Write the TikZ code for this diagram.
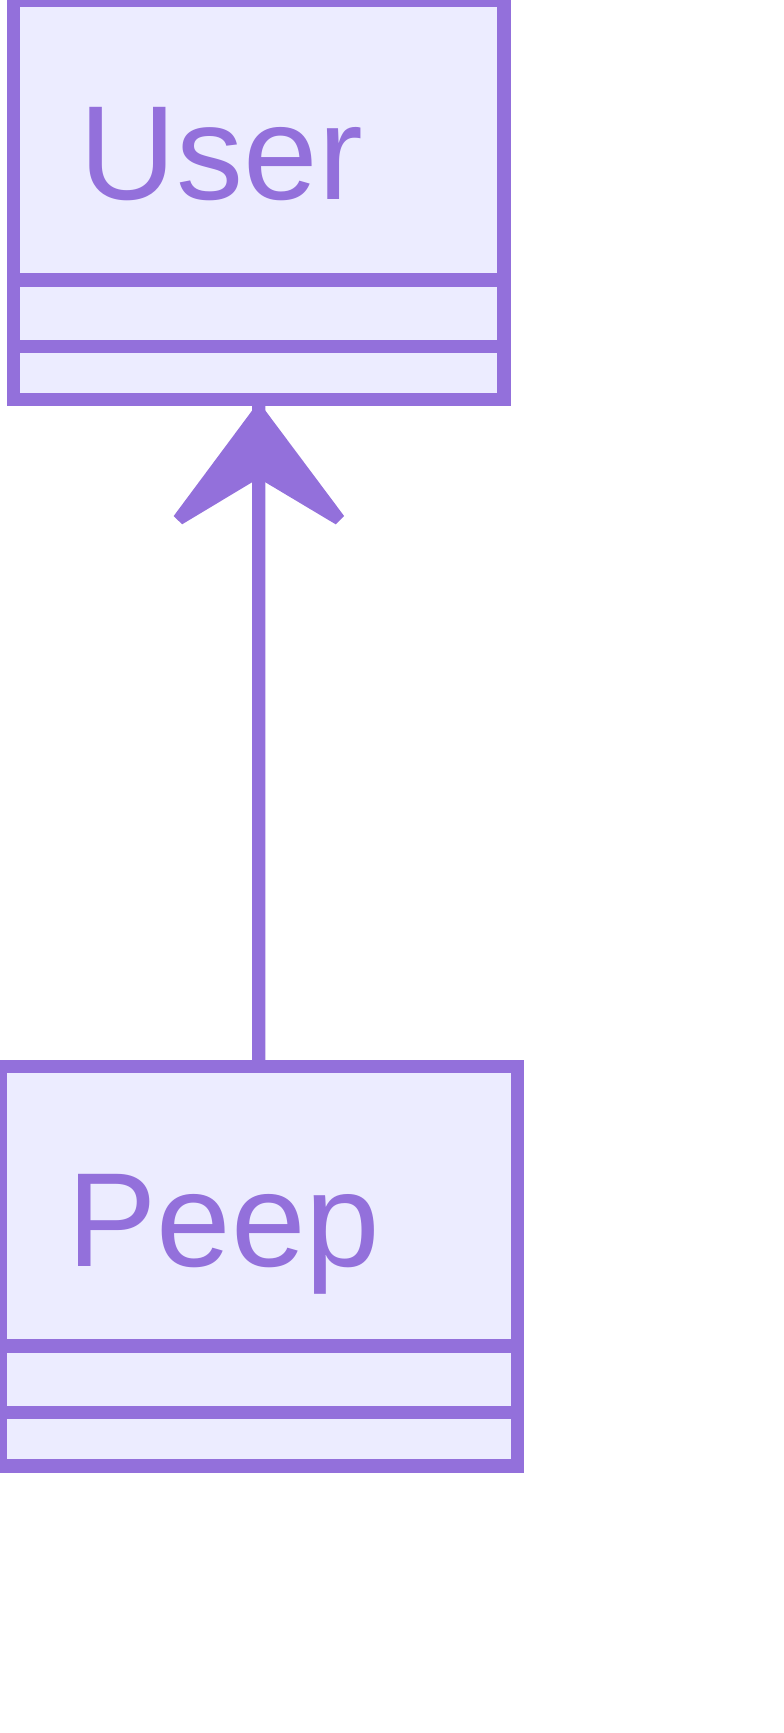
\documentclass[tikz,border=0pt]{standalone}
\usepackage{fontspec}
\setmainfont{Liberation Sans}
\usetikzlibrary{calc}
\definecolor{edgecol}{HTML}{9370DB}
\definecolor{boxfill}{HTML}{ECECFF}
\tikzset{
  classbox/.style={draw=edgecol, fill=boxfill, line width=13.3pt, rectangle, inner sep=0pt, outer sep=0pt},
  divider/.style={draw=edgecol, line width=13.3pt},
  classtitle/.style={text=edgecol, font=\fontsize{134}{150}\selectfont, inner sep=0pt, anchor=base west},
  link/.style={draw=edgecol, line width=13.3pt},
  headfill/.style={fill=edgecol}
}
\begin{document}
\begin{tikzpicture}[x=1pt,y=-1pt]
\useasboundingbox (0,0) rectangle (784,1733);
% User class
\node[classbox, minimum width=490.7pt, minimum height=399.7pt] (user) at (258.7,199.85) {};
\draw[divider] ([yshift=-280pt]user.north west) -- ([yshift=-280pt]user.north east);
\draw[divider] ([yshift=-346.5pt]user.north west) -- ([yshift=-346.5pt]user.north east);
\node[classtitle] (usertitle) at (79.6,199.7) {User};
% Peep class
\node[classbox, minimum width=517.5pt, minimum height=399.5pt] (peep) at (258.75,1266.25) {};
\draw[divider] ([yshift=-279.5pt]peep.north west) -- ([yshift=-279.5pt]peep.north east);
\draw[divider] ([yshift=-346.2pt]peep.north west) -- ([yshift=-346.2pt]peep.north east);
\node[classtitle] (peeptitle) at (67,1266) {Peep};
% inheritance link
\draw[link] (peep.north) -- (user.south);
\fill[headfill] ($(user.south)+(0,2)$) -- ++(-85,114.3) -- ++(8.4,8.3) -- ($(user.south)+(0,78.6)$) -- ++(77,46) -- ++(8.4,-8.3) -- cycle;
\end{tikzpicture}
\end{document}
